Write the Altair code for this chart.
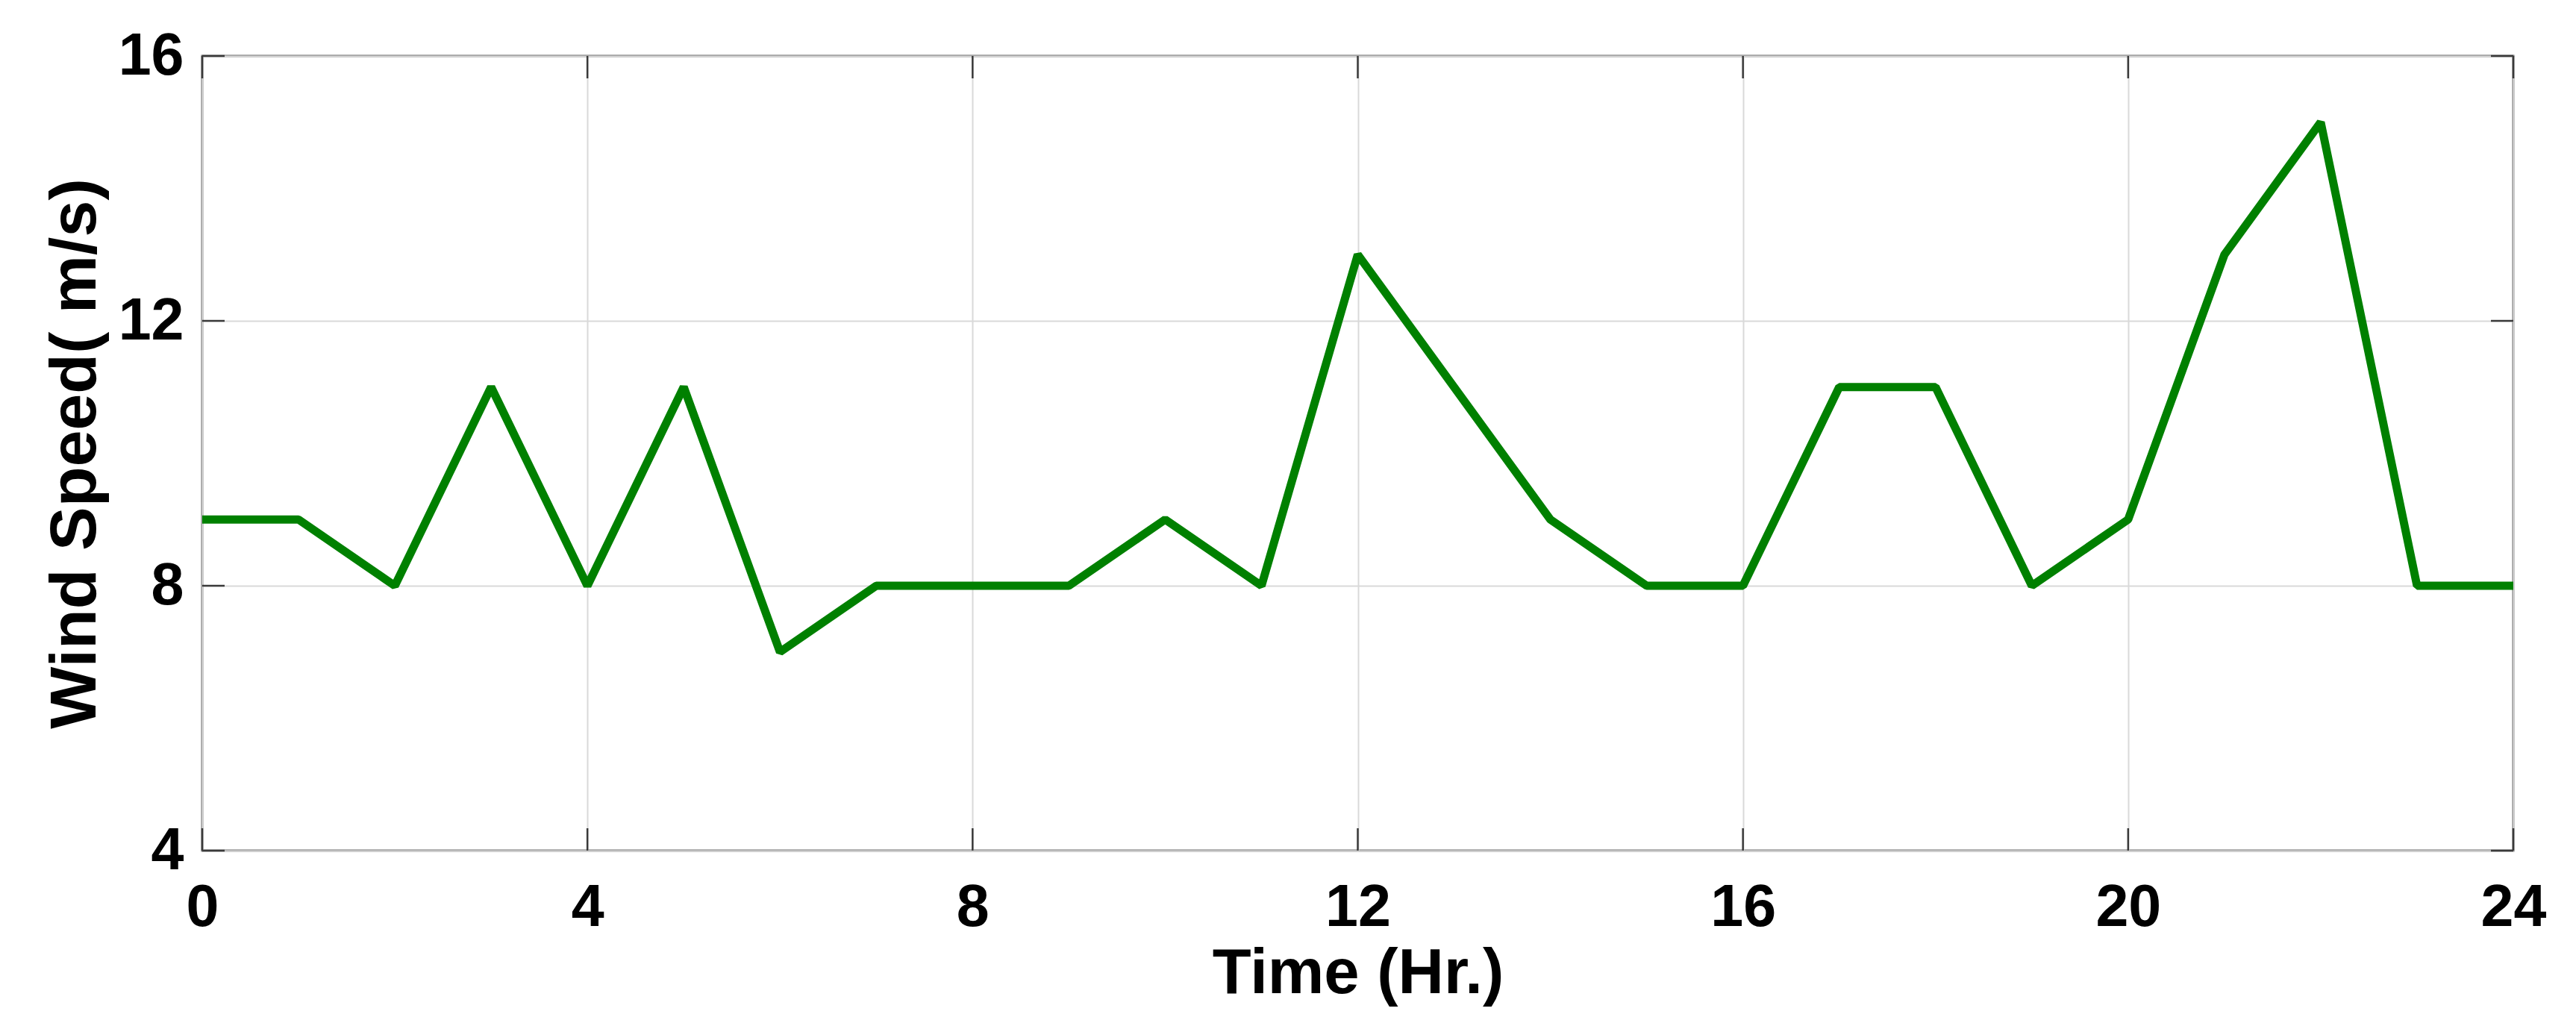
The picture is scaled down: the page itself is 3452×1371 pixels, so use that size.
import altair as alt
import pandas as pd

# ---- data ----
hours = list(range(25))
wind_speed = [9, 9, 8, 11, 8, 11, 7, 8, 8, 8, 9, 8, 13, 11, 9, 8, 8, 11, 11, 8, 9, 13, 15, 8, 8]
x_ticks = [0, 4, 8, 12, 16, 20, 24]
y_ticks = [4, 8, 12, 16]
x_title = "Time (Hr.)"
y_title = "Wind Speed( m/s)"

W, H = 3097, 1065
FONT = "Liberation Sans"
TICK_LEN = 30

df = pd.DataFrame({"t": hours, "v": wind_speed})
xt = pd.DataFrame({"t": x_ticks})
yt = pd.DataFrame({"v": y_ticks})

xs = alt.Scale(domain=[0, 24], nice=False, zero=False)
ys = alt.Scale(domain=[4, 16], nice=False, zero=False)

x_axis = alt.Axis(
    values=x_ticks, title=x_title, grid=True, gridColor="#d9d9d9", gridWidth=2,
    domain=False, ticks=False, labelFont=FONT, labelFontSize=79, labelFontWeight="bold",
    labelColor="#000000", labelPadding=38,
    titleFont=FONT, titleFontSize=85, titleFontWeight="bold", titleColor="#000000",
    titleBaseline="alphabetic", titleY=190, labelFlush=False)
y_axis = alt.Axis(
    values=y_ticks, title=y_title, grid=True, gridColor="#d9d9d9", gridWidth=2,
    domain=False, ticks=False, labelFont=FONT, labelFontSize=79, labelFontWeight="bold",
    labelColor="#000000", labelPadding=25,
    titleFont=FONT, titleFontSize=88, titleFontWeight="bold", titleColor="#000000",
    titleBaseline="alphabetic", titleX=-144, titleAngle=-90, labelFlush=False)

X = alt.X("t:Q", scale=xs, axis=x_axis, title=x_title)
Y = alt.Y("v:Q", scale=ys, axis=y_axis, title=y_title)

tick_color = "#3a3a3a"

line = alt.Chart(df).mark_line(color="#008000", strokeWidth=11, strokeJoin="bevel").encode(x=X, y=Y)

bottom_ticks = alt.Chart(xt).mark_rule(color=tick_color, strokeWidth=2.5).encode(
    x=X, y=alt.value(H), y2=alt.value(H - TICK_LEN))
top_ticks = alt.Chart(xt).mark_rule(color=tick_color, strokeWidth=2.5).encode(
    x=X, y=alt.value(0), y2=alt.value(TICK_LEN))
left_ticks = alt.Chart(yt).mark_rule(color=tick_color, strokeWidth=2.5).encode(
    y=Y, x=alt.value(0), x2=alt.value(TICK_LEN))
right_ticks = alt.Chart(yt).mark_rule(color=tick_color, strokeWidth=2.5).encode(
    y=Y, x=alt.value(W - TICK_LEN), x2=alt.value(W))

chart = alt.layer(bottom_ticks, top_ticks, left_ticks, right_ticks, line).properties(
    width=W, height=H,
    autosize=alt.AutoSizeParams(type="none"),
    padding={"left": 263, "top": 67, "right": 70, "bottom": 215},
    background="white",
).configure_view(stroke="#6e6e6e", strokeWidth=3)

chart.save("out.html", embed_options={"renderer": "svg", "actions": False})
